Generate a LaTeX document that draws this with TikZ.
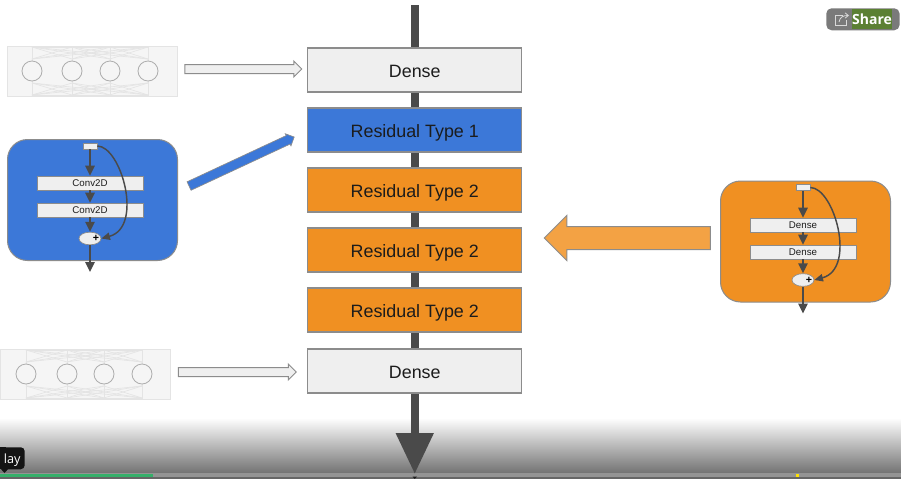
\documentclass[tikz,border=0pt]{standalone}
\usepackage{fontspec}
\setmainfont{Liberation Sans}
\newfontfamily\uifont{Open Sans}
\usetikzlibrary{positioning,chains,shapes.arrows,shapes.geometric,arrows.meta,backgrounds}

\definecolor{blockblue}{HTML}{3C78D8}
\definecolor{blockorange}{HTML}{F09022}
\definecolor{arroworange}{HTML}{F3A244}
\definecolor{densegray}{HTML}{EFEFEF}
\definecolor{edgegray}{HTML}{8C8C8C}
\definecolor{spinegray}{HTML}{4A4A4A}
\definecolor{netgray}{HTML}{E4E4E4}
\definecolor{sharegreen}{HTML}{5B8033}
\definecolor{progressgreen}{HTML}{35B06A}
\definecolor{inktext}{HTML}{1C1C1C}

\begin{document}
\begin{tikzpicture}[x=0.75pt,y=-0.75pt]
\tikzstyle{layerbox}=[draw=edgegray,line width=1pt,outer sep=0pt,minimum width=160.5pt,minimum height=33pt,
    inner sep=0pt,text height=10.5pt,text depth=0pt,text=inktext,font=\fontsize{13.4}{15}\selectfont,on chain=stack]
\tikzstyle{smallbox}=[draw=edgegray,fill=densegray,line width=.5pt,minimum width=79.5pt,
    minimum height=10.5pt,inner sep=0pt,text=inktext,font=\fontsize{7.3}{8}\selectfont]
\tikzstyle{inputbox}=[draw=edgegray,fill=densegray,line width=.5pt,minimum width=10.5pt,
    minimum height=4.5pt,inner sep=0pt]
\tikzstyle{plusnode}=[draw=edgegray,fill=densegray,ellipse,line width=.5pt,minimum width=16.5pt,
    minimum height=9.5pt,inner sep=0pt]
\tikzstyle{flow}=[draw=spinegray,line width=1.3pt,-{Triangle[length=7.5pt,width=7pt]}]
\tikzstyle{skipflow}=[draw=spinegray,line width=1.1pt,-{Triangle[length=6.5pt,width=5.5pt]}]
\tikzstyle{netline}=[draw=netgray,line width=.5pt]
\tikzstyle{bigarrow}=[single arrow,draw=edgegray,line width=.75pt,inner xsep=0pt,outer sep=0pt,
    single arrow head indent=0pt]

\useasboundingbox (0,0) rectangle (901,479);

%% Bottom fade of the player and line through the stack
\coordinate (top) at (414.75,5);
\coordinate (bottom) at (414.75,474);
\begin{pgfonlayer}{background}
\fill[white] (0,0) rectangle (901,479);
\shade[top color=white,bottom color=black!55] (0,418) rectangle (901,473);
\fill[black!42] (0,473) rectangle (901,479);
\fill[black!60] (0,476.5) rectangle (901,479);
\fill[progressgreen] (0,473.5) rectangle (153,476.5);
\fill[yellow!85!orange] (795.5,473.5) rectangle (799,476.5);
\draw[spinegray,line width=6pt,-{Triangle[length=30.75pt,width=27pt]}] (top) -- (bottom);
\end{pgfonlayer}
\fill[black!90] (412.5,476.5) -- (417,476.5) -- (414.75,479) -- cycle;

%% Stack of layers
\begin{scope}[start chain=stack going below,node distance=12pt]
    \node [layerbox,fill=densegray,at={(414.75,70)}] (dense1) {Dense};
    \node [layerbox,fill=blockblue] (res1) {Residual Type 1};
    \node [layerbox,fill=blockorange] (res2) {Residual Type 2};
    \node [layerbox,fill=blockorange] (res3) {Residual Type 2};
    \node [layerbox,fill=blockorange] (res4) {Residual Type 2};
    \node [layerbox,fill=densegray,yshift=-.75pt] (dense2) {Dense};
\end{scope}

%% Dense network pictures
\foreach \netname/\dx/\dy/\xa/\xb/\xc/\xd in {neta/7/46/25/65/103/141,netb/0/349/26/67/104/142}{
\begin{scope}[shift={(\dx,\dy)}]
    \node [draw=netgray,fill=black!4,line width=.6pt,minimum width=127.5pt,minimum height=37.5pt,
        inner sep=0pt,anchor=north west] (\netname) at (0,0) {};
    \foreach \p in {\xa,\xb,\xc,\xd}{
        \foreach \q in {\xa,\xb,\xc,\xd}{
            \draw[netline] (\p,1) -- (\q,13);
            \draw[netline] (\p,37) -- (\q,49);
        }
        \draw[netline] (\p,0) -- (\p,50);
    }
    \draw[netline] (\xa,1) -- (\xd,1) (\xa,49) -- (\xd,49);
    \foreach \p in {\xa,\xb,\xc,\xd}
        \node [circle,draw=black!32,fill=black!4,line width=.6pt,minimum size=15pt,inner sep=0pt] at (\p,25) {};
\end{scope}
}

%% Residual block, type 1
\begin{scope}[shift={(7,139)}]
    \node [draw=edgegray,fill=blockblue,rounded corners=15pt,line width=.75pt,minimum width=127.5pt,
        minimum height=90.75pt,inner sep=0pt,anchor=north west] (blockA) at (0,0) {};
    \node [inputbox] (inA) at (83,7) {};
    \node [smallbox] (convA) at (83,44) {Conv2D};
    \node [smallbox] (convB) at (83,71) {Conv2D};
    \node [plusnode] (plusA) at (83,99.5) {};
    \node [font=\fontsize{8}{8}\selectfont\bfseries,inner sep=0pt] (plussignA) at (89,99.5) {+};
    \coordinate (outA) at (83,133);
    \draw[flow] (inA) -- (convA);
    \draw[flow] (convA) -- (convB);
    \draw[flow] (convB) -- (plusA);
    \draw[flow] (plusA) -- (outA);
    \draw[skipflow] (inA.east) .. controls (114,7) and (137,88) .. (plusA.east);
\end{scope}

%% Residual block, type 2
\begin{scope}[shift={(720,180.5)}]
    \node [draw=edgegray,fill=blockorange,rounded corners=15pt,line width=.75pt,minimum width=127.5pt,
        minimum height=90.75pt,inner sep=0pt,anchor=north west] (blockB) at (0,0) {};
    \node [inputbox] (inB) at (83,7) {};
    \node [smallbox] (denseA) at (83,44.5) {Dense};
    \node [smallbox] (denseB) at (83,71.5) {Dense};
    \node [plusnode] (plusB) at (83,99.5) {};
    \node [font=\fontsize{8}{8}\selectfont\bfseries,inner sep=0pt] (plussignB) at (89,99.5) {+};
    \coordinate (outB) at (83,133);
    \draw[flow] (inB) -- (denseA);
    \draw[flow] (denseA) -- (denseB);
    \draw[flow] (denseB) -- (plusB);
    \draw[flow] (plusB) -- (outB);
    \draw[skipflow] (inB.east) .. controls (114,7) and (137,88) .. (plusB.east);
\end{scope}

%% Arrows between the pictures and the stack
\node [bigarrow,fill=densegray,inner ysep=3pt,minimum height=87.75pt,single arrow head extend=2.5pt] (arrowA) at (241,69) {};
\node [bigarrow,fill=densegray,inner ysep=3pt,minimum height=88.5pt,single arrow head extend=2.5pt] (arrowB) at (235,372) {};
\node [bigarrow,fill=blockblue,line width=.5pt,inner ysep=3.25pt,minimum height=87pt,single arrow head extend=1.5pt,
    rotate=25] (arrowC) at (239.5,162.5) {};
\node [bigarrow,fill=arroworange,inner ysep=8.25pt,minimum height=124.5pt,single arrow head extend=8.25pt,
    shape border rotate=180] (arrowD) at (633,238) {};

%% Player controls
\node [fill=black!52,rounded corners=4pt,minimum width=55pt,minimum height=16.5pt,inner sep=0pt,
    anchor=north west] (sharebox) at (826,8) {};
\node [fill=sharegreen,minimum width=30pt,minimum height=15pt,inner sep=0pt,text=white,
    font=\uifont\bfseries\fontsize{10.5}{12}\selectfont] (sharetext) at (872,19) {Share};
\draw[white!85!black,line width=.6pt] (843,15) -- (835,15) -- (835,25) -- (846,25) -- (846,20);
\draw[white!85!black,line width=.6pt,-{Straight Barb[length=2.5pt,width=4pt]}] (839,22) .. controls (840,17) and (843,15.5) .. (849,15.5);

\fill[black!92] (0,447) rectangle (6,469);
\fill[black!92] (0,468) -- (9,468) -- (4.5,473) -- cycle;
\node [fill=black!92,rounded corners=3pt,minimum width=18.75pt,minimum height=16.5pt,inner sep=0pt,
    text height=8pt,text depth=0pt,anchor=north east,text=white,font=\uifont\fontsize{9.5}{10}\selectfont] (tooltip) at (25,447) {lay\hspace{5pt}};
\end{tikzpicture}
\end{document}
